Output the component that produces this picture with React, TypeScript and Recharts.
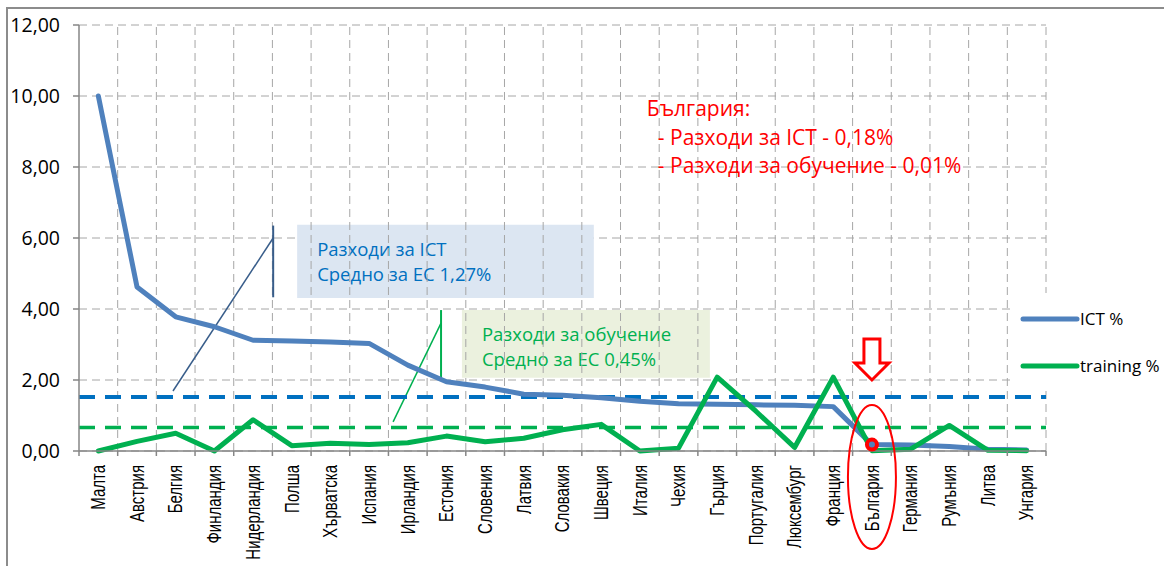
import React from 'react';
import {
  LineChart,
  Line,
  XAxis,
  YAxis,
  CartesianGrid,
  ReferenceLine,
  ReferenceArea,
  ReferenceDot,
  Legend,
} from 'recharts';

const countries = [
  'Малта', 'Австрия', 'Белгия', 'Финландия', 'Нидерландия', 'Полша', 'Хърватска', 'Испания',
  'Ирландия', 'Естония', 'Словения', 'Латвия', 'Словакия', 'Швеция', 'Италия', 'Чехия',
  'Гърция', 'Португалия', 'Люксембург', 'Франция', 'България', 'Германия', 'Румъния', 'Литва', 'Унгария',
];
const ictValues = [
  10.0, 4.62, 3.78, 3.5, 3.12, 3.1, 3.07, 3.03, 2.42, 1.95, 1.8, 1.6, 1.57, 1.5, 1.4, 1.33,
  1.32, 1.3, 1.29, 1.25, 0.18, 0.17, 0.13, 0.05, 0.03,
];
const trainingValues = [
  0.0, 0.27, 0.5, 0.0, 0.88, 0.15, 0.22, 0.18, 0.23, 0.42, 0.26, 0.36, 0.6, 0.75, 0.0, 0.08,
  2.08, 1.12, 0.1, 2.08, 0.01, 0.05, 0.72, 0.02, 0.01,
];
const yTicks = [0, 2, 4, 6, 8, 10, 12];
const ictAverageLine = 1.52;
const trainingAverageLine = 0.66;
const bulgariaIndex = 20;

const ictCallout = [{ x: 2.43, y: 1.69 }, { x: 5.02, y: 6.0 }];
const ictCalloutBar = [{ x: 5.02, y: 6.35 }, { x: 5.02, y: 4.33 }];
const trainingCallout = [{ x: 8.12, y: 0.82 }, { x: 9.36, y: 3.6 }];
const trainingCalloutBar = [{ x: 9.36, y: 3.97 }, { x: 9.36, y: 2.06 }];
const ictBox = { x1: 5.64, x2: 13.31, y1: 4.31, y2: 6.37 };
const trainingBox = { x1: 9.9, x2: 16.31, y1: 2.06, y2: 3.97 };
const ictBoxLines = ['Разходи за ICT', 'Средно за ЕС 1,27%'];
const trainingBoxLines = ['Разходи за обучение', 'Средно за ЕС 0,45%'];
const noteAnchor = { x: 14.68, y: 9.44 };
const noteLines = ['България:', '- Разходи за ICT - 0,18%', '- Разходи за обучение - 0,01%'];

const data = countries.map((name, i) => ({
  x: i + 0.5,
  name,
  ict: ictValues[i],
  training: trainingValues[i],
}));
const boundaries = Array.from({ length: countries.length + 1 }, (_, i) => i);
const xTicks = [...boundaries, ...countries.map((_, i) => i + 0.5)].sort((a, b) => a - b);

const CAL = "'Open Sans', 'Noto Sans', sans-serif";
const AXIS = '#868686';
const GRID = '#A6A6A6';
const ICT = '#4F81BD';
const TRAIN = '#00B050';

const fmt = (v: number) => v.toFixed(2).replace('.', ',');

const XTick = (props: any) => {
  const { x, y, payload } = props;
  const v = payload.value as number;
  if (Number.isInteger(v)) {
    return <line x1={x} y1={y} x2={x} y2={y + 5} stroke={AXIS} strokeWidth={1.5} />;
  }
  const name = countries[Math.floor(v)];
  return (
    <text
      transform={`translate(${x},${y + 14}) rotate(-90) scale(0.75,1)`}
      textAnchor="end"
      dominantBaseline="central"
      fontSize={20}
      fontFamily="'Liberation Sans', Arial, sans-serif"
      fill="#000"
    >
      {name}
    </text>
  );
};

const boxLabel = (lines: string[], color: string) => (props: any) => {
  const vb = props.viewBox || {};
  return (
    <text fontFamily={CAL} fontSize={18.5} fill={color}>
      <tspan x={vb.x + 20} y={vb.y + 31}>{lines[0]}</tspan>
      <tspan x={vb.x + 20} y={vb.y + 56}>{lines[1]}</tspan>
    </text>
  );
};

const LegendContent = () => (
  <div style={{ background: '#fff', width: 156, height: 97, position: 'relative', fontFamily: CAL }}>
    <svg width={156} height={97} style={{ position: 'absolute', left: 0, top: 0 }}>
      <line x1={13} y1={26} x2={67} y2={26} stroke={ICT} strokeWidth={5} strokeLinecap="round" />
      <text x={70} y={32} fontSize={17} fontFamily={CAL} fill="#000">ICT %</text>
      <line x1={13} y1={73} x2={67} y2={73} stroke={TRAIN} strokeWidth={5} strokeLinecap="round" />
      <text x={70} y={79} fontSize={17} fontFamily={CAL} fill="#000">training %</text>
    </svg>
  </div>
);

export default function App() {
  return (
    <div style={{ position: 'absolute', left: 0, top: 0, width: 1164, height: 566, background: '#fff', overflow: 'hidden' }}>
      <div
        style={{
          position: 'absolute',
          left: 6,
          top: 7,
          width: 1200,
          height: 600,
          borderLeft: '2px solid #8c8c8c',
          borderTop: '2px solid #8c8c8c',
        }}
      />
      <div style={{ position: 'absolute', left: 0, top: 0 }}>
        <LineChart
          width={1164}
          height={566}
          data={data}
          margin={{ top: 25, right: 118, bottom: 0, left: 9 }}
        >
          <CartesianGrid vertical={false} stroke={GRID} strokeDasharray="8 5" />
          {boundaries.slice(1).map((b) => (
            <ReferenceLine key={`v${b}`} x={b} stroke={GRID} strokeDasharray="8 5" />
          ))}
          <XAxis
            dataKey="x"
            type="number"
            domain={[0, countries.length]}
            ticks={xTicks}
            interval={0}
            tickLine={false}
            tickSize={0}
            tickMargin={0}
            axisLine={{ stroke: AXIS, strokeWidth: 1.5 }}
            height={115}
            tick={<XTick />}
            allowDecimals
          />
          <YAxis
            type="number"
            domain={[0, 12]}
            ticks={yTicks}
            interval={0}
            width={70}
            tickFormatter={fmt}
            axisLine={{ stroke: AXIS, strokeWidth: 1.5 }}
            tickLine={{ stroke: AXIS, strokeWidth: 1.5 }}
            tickSize={6}
            tickMargin={13}
            tick={{ fill: '#000', fontSize: 19.5, fontFamily: CAL }}
          />
          <ReferenceArea {...ictBox} fill="#DCE6F2" fillOpacity={1} stroke="none" label={boxLabel(ictBoxLines, '#0070C0')} />
          <ReferenceArea {...trainingBox} fill="#EBF1DE" fillOpacity={1} stroke="none" label={boxLabel(trainingBoxLines, TRAIN)} />
          <ReferenceLine segment={ictCallout} stroke="#385D8A" strokeWidth={1.5} />
          <ReferenceLine segment={ictCalloutBar} stroke="#385D8A" strokeWidth={2} />
          <ReferenceLine segment={trainingCallout} stroke={TRAIN} strokeWidth={1.5} />
          <ReferenceLine segment={trainingCalloutBar} stroke={TRAIN} strokeWidth={2} />
          <ReferenceLine y={ictAverageLine} stroke="#0070C0" strokeWidth={4} strokeDasharray="16 10" />
          <ReferenceLine y={trainingAverageLine} stroke={TRAIN} strokeWidth={3.5} strokeDasharray="16 10" />
          <Line
            type="linear"
            dataKey="ict"
            name="ICT %"
            stroke={ICT}
            strokeWidth={5}
            dot={false}
            activeDot={false}
            strokeLinejoin="round"
            strokeLinecap="round"
            isAnimationActive={false}
          />
          <Line
            type="linear"
            dataKey="training"
            name="training %"
            stroke={TRAIN}
            strokeWidth={5}
            dot={false}
            activeDot={false}
            strokeLinejoin="round"
            strokeLinecap="round"
            isAnimationActive={false}
          />
          <ReferenceDot
            x={noteAnchor.x}
            y={noteAnchor.y}
            r={1}
            shape={(p: any) => (
              <text fontFamily={CAL} fontSize={21} fill="#FF0000">
                <tspan x={p.cx} y={p.cy}>{noteLines[0]}</tspan>
                <tspan x={p.cx + 11} y={p.cy + 29}>{noteLines[1]}</tspan>
                <tspan x={p.cx + 11} y={p.cy + 57}>{noteLines[2]}</tspan>
              </text>
            )}
          />
          <ReferenceDot
            x={bulgariaIndex + 0.5}
            y={2}
            r={1}
            shape={(p: any) => {
              const { cx, cy } = p;
              const pts = [
                [cx, cy], [cx - 17, cy - 17], [cx - 8, cy - 17], [cx - 8, cy - 41],
                [cx + 8, cy - 41], [cx + 8, cy - 17], [cx + 17, cy - 17],
              ].map((q) => q.join(',')).join(' ');
              return <polygon points={pts} fill="#fff" stroke="#FF0000" strokeWidth={3} strokeLinejoin="miter" />;
            }}
          />
          <ReferenceDot
            x={bulgariaIndex + 0.5}
            y={0}
            r={1}
            shape={(p: any) => (
              <ellipse cx={p.cx} cy={p.cy + 26} rx={24} ry={72} fill="none" stroke="#FF0000" strokeWidth={2} />
            )}
          />
          <ReferenceDot
            x={bulgariaIndex + 0.5}
            y={ictValues[bulgariaIndex]}
            r={5}
            fill={ICT}
            stroke="#FF0000"
            strokeWidth={4}
          />
          <Legend
            layout="horizontal"
            verticalAlign="middle"
            align="center"
            content={<LegendContent />}
            wrapperStyle={{ left: 1010, top: 293, width: 156, height: 97, right: 'auto', bottom: 'auto', margin: 0 }}
          />
        </LineChart>
      </div>
    </div>
  );
}
